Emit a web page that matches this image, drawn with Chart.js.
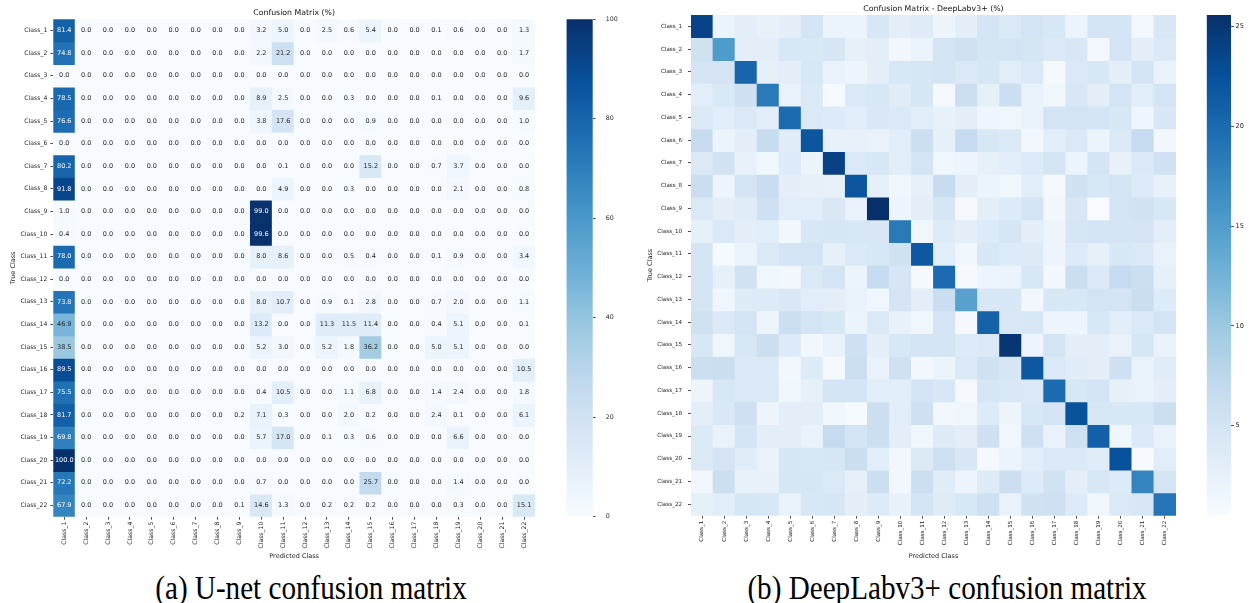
<!DOCTYPE html>
<html>
<head>
<meta charset="utf-8">
<script src="https://cdn.jsdelivr.net/npm/chart.js@4.4.1/dist/chart.umd.min.js"></script>
<style>
  body { margin: 0; width: 1252px; height: 603px; background: #fff; position: relative; overflow: hidden; }
  canvas { position: absolute; }
  .caption {
    position: absolute; top: 571px; line-height: 1; transform: translateX(-50%) scaleX(0.857);
    font-family: "Liberation Serif", serif; font-size: 34px; color: #000; white-space: nowrap;
  }
</style>
</head>
<body>
<canvas id="unet" width="535" height="560" style="left:0;top:0"></canvas>
<canvas id="unetBar" width="70" height="560" style="left:560px;top:0"></canvas>
<canvas id="deeplab" width="546" height="560" style="left:630px;top:0"></canvas>
<canvas id="deeplabBar" width="52" height="560" style="left:1200px;top:0"></canvas>
<div class="caption" style="left:311px">(a) U-net confusion matrix</div>
<div class="caption" style="left:947px">(b) DeepLabv3+ confusion matrix</div>
<script>
const CLASSES = [
  'Class_1', 'Class_2', 'Class_3', 'Class_4', 'Class_5', 'Class_6', 'Class_7', 'Class_8',
  'Class_9', 'Class_10', 'Class_11', 'Class_12', 'Class_13', 'Class_14', 'Class_15', 'Class_16',
  'Class_17', 'Class_18', 'Class_19', 'Class_20', 'Class_21', 'Class_22'
];

// U-net, row = true class, column = predicted class (%)
const UNET = [
  [81.4, 0, 0, 0, 0, 0, 0, 0, 0, 3.2, 5.0, 0, 2.5, 0.6, 5.4, 0, 0, 0.1, 0.6, 0, 0, 1.3],
  [74.8, 0, 0, 0, 0, 0, 0, 0, 0, 2.2, 21.2, 0, 0, 0, 0, 0, 0, 0, 0, 0, 0, 1.7],
  [0, 0, 0, 0, 0, 0, 0, 0, 0, 0, 0, 0, 0, 0, 0, 0, 0, 0, 0, 0, 0, 0],
  [78.5, 0, 0, 0, 0, 0, 0, 0, 0, 8.9, 2.5, 0, 0, 0.3, 0, 0, 0, 0.1, 0, 0, 0, 9.6],
  [76.6, 0, 0, 0, 0, 0, 0, 0, 0, 3.8, 17.6, 0, 0, 0, 0.9, 0, 0, 0, 0, 0, 0, 1.0],
  [0, 0, 0, 0, 0, 0, 0, 0, 0, 0, 0, 0, 0, 0, 0, 0, 0, 0, 0, 0, 0, 0],
  [80.2, 0, 0, 0, 0, 0, 0, 0, 0, 0, 0.1, 0, 0, 0, 15.2, 0, 0, 0.7, 3.7, 0, 0, 0],
  [91.8, 0, 0, 0, 0, 0, 0, 0, 0, 0, 4.9, 0, 0, 0.3, 0, 0, 0, 0, 2.1, 0, 0, 0.8],
  [1.0, 0, 0, 0, 0, 0, 0, 0, 0, 99.0, 0, 0, 0, 0, 0, 0, 0, 0, 0, 0, 0, 0],
  [0.4, 0, 0, 0, 0, 0, 0, 0, 0, 99.6, 0, 0, 0, 0, 0, 0, 0, 0, 0, 0, 0, 0],
  [78.0, 0, 0, 0, 0, 0, 0, 0, 0, 8.0, 8.6, 0, 0, 0.5, 0.4, 0, 0, 0.1, 0.9, 0, 0, 3.4],
  [0, 0, 0, 0, 0, 0, 0, 0, 0, 0, 0, 0, 0, 0, 0, 0, 0, 0, 0, 0, 0, 0],
  [73.8, 0, 0, 0, 0, 0, 0, 0, 0, 8.0, 10.7, 0, 0.9, 0.1, 2.8, 0, 0, 0.7, 2.0, 0, 0, 1.1],
  [46.9, 0, 0, 0, 0, 0, 0, 0, 0, 13.2, 0, 0, 11.3, 11.5, 11.4, 0, 0, 0.4, 5.1, 0, 0, 0.1],
  [38.5, 0, 0, 0, 0, 0, 0, 0, 0, 5.2, 3.0, 0, 5.2, 1.8, 36.2, 0, 0, 5.0, 5.1, 0, 0, 0],
  [89.5, 0, 0, 0, 0, 0, 0, 0, 0, 0, 0, 0, 0, 0, 0, 0, 0, 0, 0, 0, 0, 10.5],
  [75.5, 0, 0, 0, 0, 0, 0, 0, 0, 0.4, 10.5, 0, 0, 1.1, 6.8, 0, 0, 1.4, 2.4, 0, 0, 1.8],
  [81.7, 0, 0, 0, 0, 0, 0, 0, 0.2, 7.1, 0.3, 0, 0, 2.0, 0.2, 0, 0, 2.4, 0.1, 0, 0, 6.1],
  [69.8, 0, 0, 0, 0, 0, 0, 0, 0, 5.7, 17.0, 0, 0.1, 0.3, 0.6, 0, 0, 0, 6.6, 0, 0, 0],
  [100.0, 0, 0, 0, 0, 0, 0, 0, 0, 0, 0, 0, 0, 0, 0, 0, 0, 0, 0, 0, 0, 0],
  [72.2, 0, 0, 0, 0, 0, 0, 0, 0, 0.7, 0, 0, 0, 0, 25.7, 0, 0, 0, 1.4, 0, 0, 0],
  [67.9, 0, 0, 0, 0, 0, 0, 0, 0.1, 14.6, 1.3, 0, 0.2, 0.2, 0.2, 0, 0, 0, 0.3, 0, 0, 15.1]
];

// DeepLabv3+ (%), read from cell shades
const DEEPLAB = [
  [23.8, 2, 3, 2.5, 3, 5, 2, 2, 4.5, 3, 3.5, 1.8, 3, 5, 4, 5, 4.5, 2, 5, 5, 1, 4.5],
  [5.5, 15.2, 3, 3, 4.5, 4.3, 4.7, 2.7, 3, 1.2, 2, 5, 5.5, 4.8, 5, 4.8, 4, 4.5, 1, 5, 3, 4],
  [5, 5, 20.5, 2.7, 3, 4.5, 2.3, 1.8, 3, 4.5, 4.7, 5, 4, 4.7, 3.2, 4, 0.8, 4, 4.5, 3, 5, 2.3],
  [3.2, 4.3, 5.7, 18.5, 2.2, 4, 0.7, 4, 4.5, 3.4, 4.7, 0.8, 6, 2.7, 6, 2.2, 1.5, 4.5, 3, 5, 3.2, 5],
  [4, 3.2, 4, 3.2, 20, 4, 3.8, 3.3, 4.2, 4, 3.2, 2.5, 3, 1.6, 1.5, 2.2, 5, 5, 5, 4.5, 1.6, 4.5],
  [6.8, 2, 3, 6.5, 3.4, 22, 2.4, 2.4, 2.2, 3.2, 6, 2.7, 6.8, 4.5, 4, 1.2, 3.2, 4, 2, 4, 6.8, 1.2],
  [4, 5.3, 2.4, 1.5, 3.8, 2, 24, 4, 4.5, 3.2, 5, 1.5, 1.8, 2.7, 3.2, 3.8, 5, 2, 5, 2.4, 4, 5.6],
  [6.2, 1.8, 5, 6.3, 3, 2.7, 2.4, 22, 2.7, 1.5, 2.7, 6.6, 3, 2, 1.5, 3.2, 0.8, 5.5, 4.5, 5, 3.8, 2.4],
  [4, 3, 3.4, 5.7, 3.2, 3.2, 4.2, 2.3, 25.59, 1.8, 3, 4.7, 0.8, 3, 3.8, 5, 1.2, 4.5, 0.49, 5, 5.3, 4.5],
  [2.7, 4, 3, 3.2, 1.2, 4.5, 4.7, 4.5, 4.5, 18.5, 1.5, 3.8, 3, 3.8, 4.7, 3, 1.8, 4.7, 5, 5, 5, 3],
  [5, 0.7, 2, 4, 5, 5, 2.7, 4, 4.5, 5.5, 21.8, 3.2, 1.5, 4.5, 3.8, 3.6, 1.8, 3.8, 2.7, 4.5, 4, 2.2],
  [5, 2.7, 5.3, 1.5, 1.2, 4, 5, 2, 6.7, 4.7, 0.8, 20, 0.8, 1.8, 2, 4.5, 1.2, 6.2, 4, 6.7, 6, 2.7],
  [5, 1.5, 3.8, 3.8, 4.2, 3.2, 3, 2.2, 1.5, 5, 3, 6.1, 14.5, 4.5, 4.5, 1.2, 4.5, 4.5, 5, 5, 6.2, 3.8],
  [5.5, 4, 5, 1.8, 6, 5, 4.5, 2, 4, 2.4, 1.5, 5, 0.8, 20.8, 4.2, 4.5, 1.8, 1.8, 4.5, 3.2, 4, 5],
  [4.5, 1.5, 4.5, 6, 3.8, 1.2, 2.2, 5.7, 3, 4.5, 5, 5, 3.8, 4, 25, 1.8, 5, 3, 3, 2.3, 4.7, 2.3],
  [6, 6.2, 4, 4, 1.2, 3.8, 0.8, 6, 2.2, 5.5, 1.2, 2, 4, 5.5, 4.7, 21.8, 4, 3.4, 3, 5.7, 2.3, 3.4],
  [1.8, 4.5, 4, 4, 1.5, 2.7, 5, 5, 3.2, 3.2, 5, 4.5, 0.8, 4.7, 4.2, 4, 20, 4.5, 5, 2.7, 2.3, 3],
  [3, 4.2, 5.7, 1.8, 3, 3, 1.5, 0.7, 6, 3.2, 5.7, 1.2, 1.5, 3.8, 1.8, 4.5, 5, 22.3, 4.5, 4.5, 4.5, 6],
  [4, 2.2, 5, 3, 3, 2.2, 6.8, 5, 6, 3, 1.5, 3.6, 3, 5.7, 1.5, 5.7, 2.2, 5.7, 21, 1.5, 4, 2.2],
  [4, 5, 3.4, 2.3, 4.7, 4.5, 4.7, 6.2, 3.2, 1.2, 4, 5.8, 4.5, 0.8, 2, 3.2, 4, 4, 3.4, 22.5, 0.6, 3.2],
  [1.2, 6, 2.4, 2.4, 4.7, 4.7, 4, 2.7, 6, 1.2, 6, 3.4, 1.8, 3.8, 6, 3.8, 5.3, 3, 4.5, 3.8, 17.5, 5],
  [2.7, 3.2, 4.7, 4.5, 2.2, 4.5, 4.7, 3, 3.8, 2.4, 5, 3.5, 4.5, 5.7, 2.3, 5.5, 5.7, 3.8, 1.5, 4, 4.5, 19]
];

const UNET_TICKS = [0, 20, 40, 60, 80, 100];
const DEEPLAB_TICKS = [5, 10, 15, 20, 25];

const FONT = '"DejaVu Sans", sans-serif';
const INK = '#262626';
const BLUES = ['#f7fbff', '#deebf7', '#c6dbef', '#9ecae1', '#6baed6', '#4292c6', '#2171b5', '#08519c', '#08306b'];

function hexRgb(h) {
  return [1, 3, 5].map(i => parseInt(h.slice(i, i + 2), 16));
}

function blues(t) {
  t = Math.min(1, Math.max(0, t));
  const pos = t * 8;
  const i = Math.min(7, Math.floor(pos));
  const f = pos - i;
  const a = hexRgb(BLUES[i]), b = hexRgb(BLUES[i + 1]);
  return a.map((v, k) => Math.round(v + (b[k] - v) * f));
}

// same rule seaborn uses to pick annotation colour
function textColor(rgb) {
  const lin = rgb.map(v => {
    v /= 255;
    return v <= 0.03928 ? v / 12.92 : Math.pow((v + 0.055) / 1.055, 2.4);
  });
  const lum = 0.2126 * lin[0] + 0.7152 * lin[1] + 0.0722 * lin[2];
  return lum > 0.408 ? INK : '#ffffff';
}

const cellTextPlugin = {
  id: 'cellText',
  afterDatasetsDraw(chart) {
    const ctx = chart.ctx;
    ctx.save();
    ctx.font = '6.5px ' + FONT;
    ctx.textAlign = 'center';
    ctx.textBaseline = 'middle';
    chart.data.datasets.forEach((ds, r) => {
      chart.getDatasetMeta(r).data.forEach((bar, c) => {
        ctx.fillStyle = textColor(ds.rgb[c]);
        ctx.fillText(ds.values[c].toFixed(1), bar.x, (bar.y + bar.base) / 2);
      });
    });
    ctx.restore();
  }
};

function drawHeatmap(id, rows, cfg) {
  const vmin = cfg.vmin, vmax = cfg.vmax;
  const datasets = rows.map((row, r) => {
    const rgb = row.map(v => blues((v - vmin) / (vmax - vmin)));
    return {
      data: row.map(() => [r, r + 1]),
      values: row,
      rgb: rgb,
      backgroundColor: rgb.map(c => `rgb(${c[0]},${c[1]},${c[2]})`),
      grouped: false,
      barPercentage: 1,
      categoryPercentage: 1,
      borderWidth: 0,
      inflateAmount: 0.4
    };
  });

  new Chart(document.getElementById(id), {
    type: 'bar',
    data: { labels: CLASSES, datasets: datasets },
    options: {
      responsive: false,
      animation: false,
      events: [],
      plugins: {
        legend: { display: false },
        tooltip: { enabled: false },
        title: {
          display: true,
          text: cfg.title,
          fullSize: false,
          color: '#111',
          font: { family: FONT, size: 7.8, weight: 'normal' },
          padding: cfg.titlePad
        }
      },
      scales: {
        x: {
          offset: true,
          grid: { offset: false, drawOnChartArea: false, tickLength: 3, color: INK, lineWidth: 0.8 },
          border: { display: false },
          ticks: {
            autoSkip: false, minRotation: 90, maxRotation: 90, padding: 2,
            color: INK, font: { family: FONT, size: cfg.tickSize }
          },
          title: {
            display: true, text: 'Predicted Class', color: INK,
            font: { family: FONT, size: 6.5 }, padding: { top: 0, bottom: 0 }
          },
          afterFit: s => { s.height = cfg.xAxisHeight; }
        },
        y: {
          min: 0,
          max: CLASSES.length,
          reverse: true,
          afterBuildTicks: s => { s.ticks = CLASSES.map((_, i) => ({ value: i + 0.5 })); },
          grid: { drawOnChartArea: false, tickLength: 3, color: INK, lineWidth: 0.8 },
          border: { display: false },
          ticks: {
            autoSkip: false, padding: cfg.yTickPad, color: INK,
            font: { family: FONT, size: cfg.tickSize },
            callback: (v, i) => CLASSES[i]
          },
          title: {
            display: true, text: 'True Class', color: INK,
            font: { family: FONT, size: 6.5 }, padding: { top: cfg.yTitlePad, bottom: 0 }
          },
          afterFit: s => { s.width = cfg.yAxisWidth; }
        }
      }
    },
    plugins: cfg.annotate ? [cellTextPlugin] : []
  });
}

function drawColorbar(id, vmin, vmax, ticks, cfg) {
  new Chart(document.getElementById(id), {
    type: 'bar',
    data: {
      labels: [''],
      datasets: [{
        data: [[vmin, vmax]],
        barPercentage: 1,
        categoryPercentage: 1,
        borderWidth: 0,
        backgroundColor: (c) => {
          const area = c.chart.chartArea;
          if (!area) return BLUES[4];
          const g = c.chart.ctx.createLinearGradient(0, area.bottom, 0, area.top);
          BLUES.forEach((col, i) => g.addColorStop(i / 8, col));
          return g;
        }
      }]
    },
    options: {
      responsive: false,
      animation: false,
      events: [],
      layout: { padding: cfg.padding },
      plugins: { legend: { display: false }, tooltip: { enabled: false } },
      scales: {
        x: { display: false },
        y: {
          position: 'right',
          min: vmin,
          max: vmax,
          afterBuildTicks: s => { s.ticks = ticks.map(v => ({ value: v })); },
          grid: { drawOnChartArea: false, tickLength: 3, color: INK, lineWidth: 0.8 },
          border: { display: false },
          ticks: {
            padding: cfg.tickPad, color: INK,
            font: { family: FONT, size: cfg.tickSize },
            callback: v => String(v)
          },
          afterFit: s => { s.width = cfg.axisWidth; }
        }
      }
    }
  });
}

const deeplabFlat = DEEPLAB.flat();
const DL_MIN = Math.min(...deeplabFlat);
const DL_MAX = Math.max(...deeplabFlat);

drawHeatmap('unet', UNET, {
  title: 'Confusion Matrix (%)',
  vmin: 0, vmax: 100,
  annotate: true,
  titlePad: { top: 8.4, bottom: 1.5 },
  tickSize: 6.1,
  yTickPad: 3,
  yTitlePad: 9.4,
  yAxisWidth: 53.3,
  xAxisHeight: 43.3
});

drawColorbar('unetBar', 0, 100, UNET_TICKS, {
  padding: { left: 6.5, top: 19.26, bottom: 43.3, right: 0 },
  axisWidth: 37.3,
  tickPad: 10,
  tickSize: 6.3
});

drawHeatmap('deeplab', DEEPLAB, {
  title: 'Confusion Matrix - DeepLabv3+ (%)',
  vmin: DL_MIN, vmax: DL_MAX,
  annotate: false,
  titlePad: { top: 4.1, bottom: 1.5 },
  tickSize: 5.6,
  yTickPad: 6,
  yTitlePad: 16.1,
  yAxisWidth: 61,
  xAxisHeight: 44.3
});

drawColorbar('deeplabBar', DL_MIN, DL_MAX, DEEPLAB_TICKS, {
  padding: { left: 6.7, top: 14.96, bottom: 44.3, right: 0 },
  axisWidth: 21,
  tickPad: 1.5,
  tickSize: 6.6
});
</script>
</body>
</html>
